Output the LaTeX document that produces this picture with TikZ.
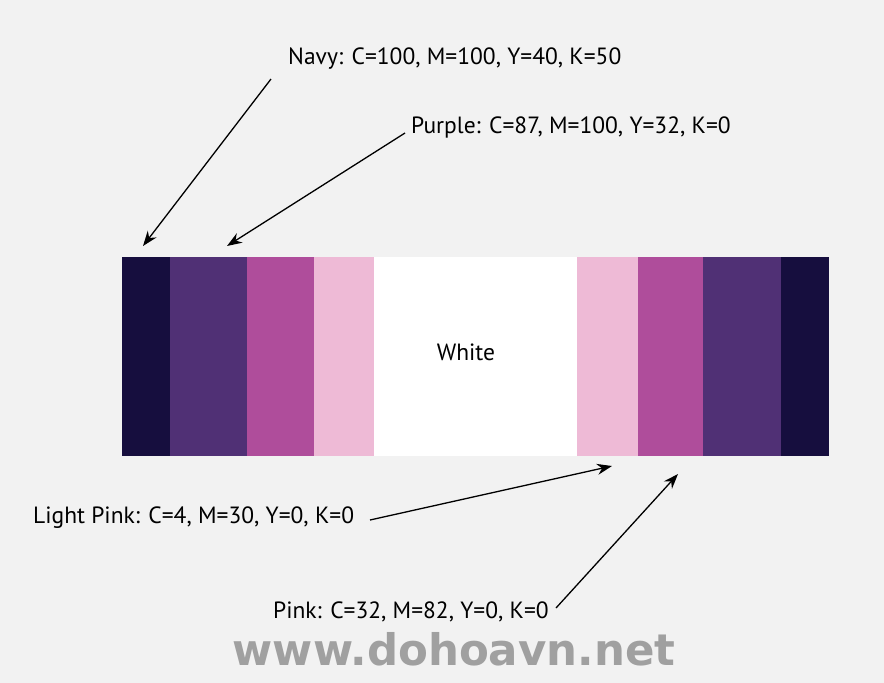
\documentclass[tikz,border=0pt]{standalone}
\usepackage{fontspec}
\setmainfont{PT Sans}
\newfontfamily\wmfont{DejaVu Sans}
\usetikzlibrary{arrows.meta}
\definecolor{bg}{RGB}{242,242,242}
\definecolor{cnavy}{RGB}{22,14,62}
\definecolor{cpurple}{RGB}{80,48,117}
\definecolor{cpink}{RGB}{175,77,155}
\definecolor{clight}{RGB}{238,186,214}
\definecolor{wmgray}{RGB}{160,160,160}
\tikzset{
  lbl/.style={font=\fontsize{23.5}{26}\selectfont, inner sep=0pt, text=black},
  arr/.style={line width=1.3pt, -{Stealth[length=15pt,width=11pt]}},
  stripe/.style={draw=none, inner sep=0pt, minimum height=199pt, anchor=north west},
  wm/.style={font=\wmfont\bfseries\fontsize{43.5}{46}\selectfont, inner sep=0pt, anchor=base}
}
\begin{document}
\begin{tikzpicture}[x=1pt,y=-1pt]
\fill[bg] (0,0) rectangle (884,683);
\useasboundingbox (0,0) rectangle (884,683);
% stripes
\node[stripe, fill=cnavy,   minimum width=48pt] (s1) at (122,257) {};
\node[stripe, fill=cpurple, minimum width=77pt] (s2) at (170,257) {};
\node[stripe, fill=cpink,   minimum width=67pt] (s3) at (247,257) {};
\node[stripe, fill=clight,  minimum width=60pt] (s4) at (314,257) {};
\node[stripe, fill=white,   minimum width=203pt] (s5) at (374,257) {};
\node[stripe, fill=clight,  minimum width=61pt] (s6) at (577,257) {};
\node[stripe, fill=cpink,   minimum width=65pt] (s7) at (638,257) {};
\node[stripe, fill=cpurple, minimum width=78pt] (s8) at (703,257) {};
\node[stripe, fill=cnavy,   minimum width=48pt] (s9) at (781,257) {};
\node[lbl] (white) at (466,352) {White};
% labels
\node[lbl, anchor=west] (navy) at (288,59) {Navy: C=100, M=100, Y=40, K=50};
\node[lbl, anchor=west] (purple) at (411,127) {Purple: C=87, M=100, Y=32, K=0};
\node[lbl, anchor=west] (lpink) at (33,518) {Light Pink: C=4, M=30, Y=0, K=0};
\node[lbl, anchor=west] (pink) at (273,612) {Pink: C=32, M=82, Y=0, K=0};
% arrow ends
\coordinate (navyA) at (271,79);
\coordinate (navyB) at (143,246);
\coordinate (purA) at (405,133);
\coordinate (purB) at (227,246);
\coordinate (lpA) at (370,520);
\coordinate (lpB) at (612,466);
\coordinate (pkA) at (556,608);
\coordinate (pkB) at (678,474);
\draw[arr] (navyA) -- (navyB);
\draw[arr] (purA) -- (purB);
\draw[arr] (lpA) -- (lpB);
\draw[arr] (pkA) -- (pkB);
% watermark
\node[wm, text=wmgray] (wmk) at (454,665) {www.dohoavn.net};
\end{tikzpicture}
\end{document}
